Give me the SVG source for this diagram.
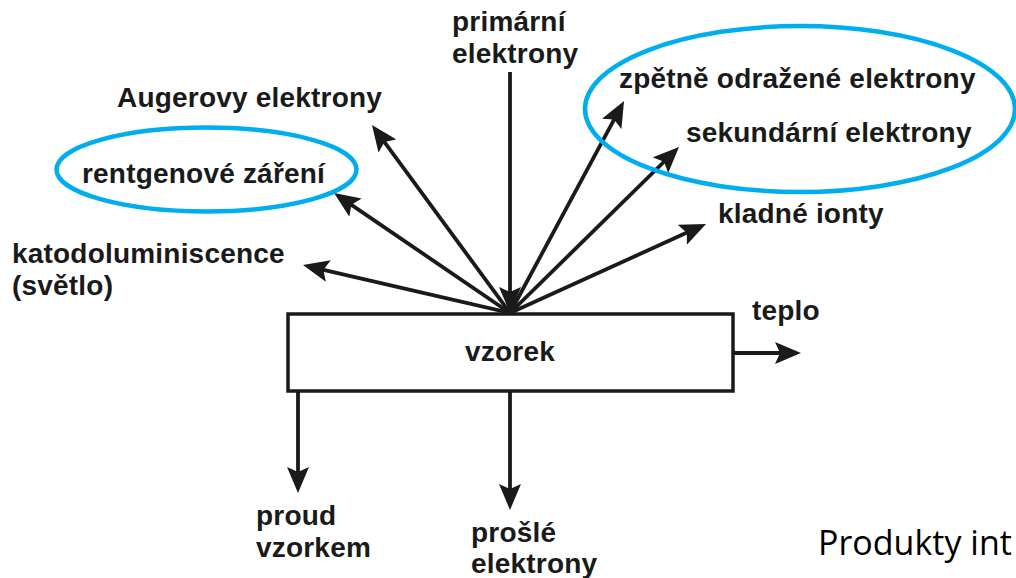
<svg xmlns="http://www.w3.org/2000/svg" width="1016" height="578" viewBox="0 0 1016 578">
<style>
.t{font-family:"Liberation Sans",Arial,sans-serif;font-weight:bold;font-size:28px;fill:#1a1a1a;letter-spacing:0.2px}
.c{stroke:#1a1a1a;stroke-width:3.8;fill:none}
.e{fill:none;stroke:#00aeef;stroke-width:4.5}
</style>
<defs>
<marker id="ah" markerUnits="userSpaceOnUse" viewBox="0 0 26 22" refX="16" refY="11" markerWidth="26" markerHeight="22" orient="auto">
<path d="M0,0 L26,11 L0,22 L5,11 z" fill="#1a1a1a"/>
</marker>
</defs>
<rect width="1016" height="578" fill="#ffffff"/>
<g id="vzorek">
<rect x="288" y="314" width="445" height="77" fill="#ffffff" stroke="#1a1a1a" stroke-width="3.5"/>
<text class="t" x="510" y="361" text-anchor="middle">vzorek</text>
</g>
<g id="connectors">
<line class="c" x1="510" y1="72" x2="510" y2="303" marker-end="url(#ah)"/>
<line class="c" x1="510" y1="313" x2="377.9" y2="133.1" marker-end="url(#ah)"/>
<line class="c" x1="510" y1="313" x2="342.3" y2="198.6" marker-end="url(#ah)"/>
<line class="c" x1="510" y1="313" x2="312.7" y2="267.3" marker-end="url(#ah)"/>
<line class="c" x1="510" y1="313" x2="619.3" y2="109.8" marker-end="url(#ah)"/>
<line class="c" x1="510" y1="313" x2="671.9" y2="154.0" marker-end="url(#ah)"/>
<line class="c" x1="510" y1="313" x2="696.9" y2="228.1" marker-end="url(#ah)"/>
<line class="c" x1="734" y1="353" x2="791" y2="353" marker-end="url(#ah)"/>
<line class="c" x1="298" y1="392" x2="298" y2="483" marker-end="url(#ah)"/>
<line class="c" x1="510" y1="392" x2="510" y2="500" marker-end="url(#ah)"/>
</g>
<g id="primarni">
<text class="t" x="452" y="31">primární</text>
<text class="t" x="452" y="63">elektrony</text>
</g>
<g id="auger"><text class="t" x="117" y="107">Augerovy elektrony</text></g>
<g id="rentgen">
<ellipse class="e" cx="206.5" cy="169.5" rx="150" ry="42"/>
<text class="t" x="82" y="183">rentgenové záření</text>
</g>
<g id="katodo">
<text class="t" x="12" y="263">katodoluminiscence</text>
<text class="t" x="12" y="295">(světlo)</text>
</g>
<g id="zpetne">
<ellipse class="e" cx="800" cy="109" rx="215" ry="83"/>
<text class="t" x="619" y="88">zpětně odražené elektrony</text>
</g>
<g id="sekundarni"><text class="t" x="686" y="142">sekundární elektrony</text></g>
<g id="kladne"><text class="t" x="718" y="223">kladné ionty</text></g>
<g id="teplo"><text class="t" x="752" y="320">teplo</text></g>
<g id="proud">
<text class="t" x="256" y="525">proud</text>
<text class="t" x="256" y="557">vzorkem</text>
</g>
<g id="prosle">
<text class="t" x="471" y="542">prošlé</text>
<text class="t" x="471" y="573">elektrony</text>
</g>
<g id="caption"><text x="818" y="555" font-family="'Open Sans','Noto Sans',sans-serif" font-size="34" fill="#000">Produkty int</text></g>
</svg>
